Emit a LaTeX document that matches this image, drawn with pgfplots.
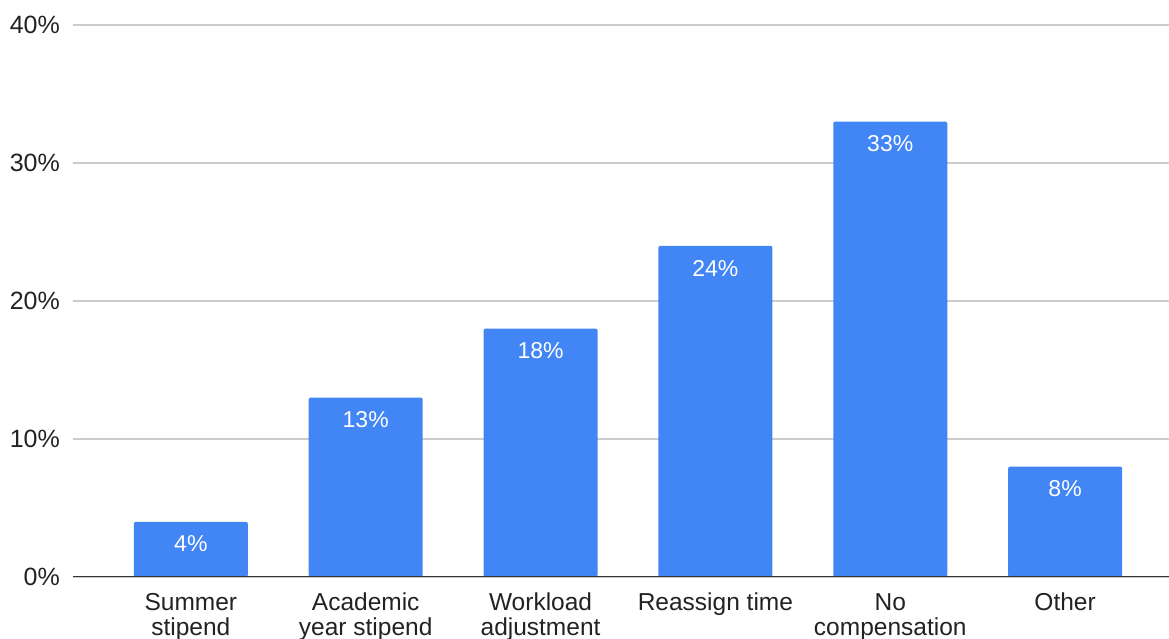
\documentclass[border=0pt]{standalone}
\usepackage{pgfplots}
\pgfplotsset{compat=1.18}
\usepackage{fontspec}
\setmainfont{Liberation Sans}
\definecolor{barblue}{HTML}{4285F4}
\definecolor{gridgray}{HTML}{CCCCCC}
\definecolor{axisdark}{HTML}{333333}
\definecolor{textdark}{HTML}{222222}
\begin{document}
\begin{tikzpicture}
\useasboundingbox (0,0) rectangle (1169pt,639pt);
\begin{axis}[
  at={(73pt,62pt)}, anchor=south west,
  scale only axis, width=1096pt, height=552pt,
  xmin=-0.674, xmax=5.594, ymin=0, ymax=40,
  axis line style={draw=none},
  major tick length=0pt,
  ytick={0,10,20,30,40},
  yticklabel={\pgfmathprintnumber{\tick}\%},
  /pgf/number format/assume math mode=true,
  ymajorgrids, grid style={gridgray, line width=1.3pt},
  yticklabel style={font=\fontsize{25}{27}\selectfont, text=textdark, anchor=east, inner sep=0pt, xshift=-13pt},
  xtick={0,1,2,3,4,5},
  xticklabels={{Summer\\stipend},{Academic\\year stipend},{Workload\\adjustment},{Reassign time},{No\\compensation},{Other}},
  xticklabel style={font=\fontsize{24.5}{25}\selectfont, text=textdark, align=center, anchor=north, inner sep=0pt, yshift=-16pt},
  ybar, bar width=114pt,
  nodes near coords={\pgfmathprintnumber{\pgfplotspointmeta}\%},
  nodes near coords style={anchor=north, inner sep=0pt, yshift=-14pt, text=white, font=\fontsize{23}{25}\selectfont},
]
\addplot[fill=barblue, draw=none, rounded corners=2pt] coordinates {(0,4) (1,13) (2,18) (3,24) (4,33) (5,8)};
\draw[axisdark, line width=1.8pt] (axis cs:-0.674,0) -- (axis cs:5.594,0);
\end{axis}
\end{tikzpicture}
\end{document}
